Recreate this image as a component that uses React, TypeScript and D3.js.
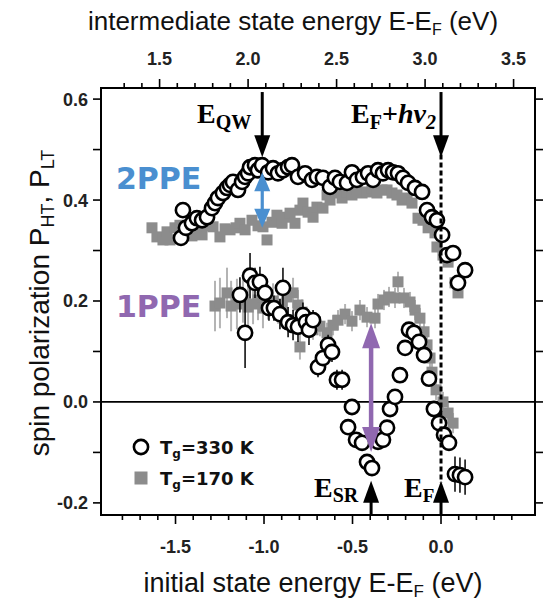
import React from 'react';
import * as d3 from 'd3';

// ---------- data (initial state energy E-EF in eV, spin polarization) ----------
// T_g = 330 K, 2PPE branch (open circles)
const e330hi = [-1.469, -1.458, -1.441, -1.407, -1.379, -1.350, -1.322, -1.294, -1.277, -1.260, -1.232, -1.209, -1.192, -1.175, -1.147, -1.124, -1.107, -1.090, -1.079, -1.051, -1.034, -1.011, -0.977, -0.949, -0.921, -0.893, -0.864, -0.842, -0.808, -0.768, -0.729, -0.701, -0.667, -0.627, -0.599, -0.571, -0.531, -0.503, -0.475, -0.441, -0.412, -0.384, -0.356, -0.328, -0.299, -0.271, -0.243, -0.215, -0.186, -0.147, -0.107, -0.079, -0.051, -0.023, 0.006, 0.034, 0.068, 0.096, 0.136];
const p330hi = [0.325, 0.380, 0.345, 0.354, 0.364, 0.360, 0.366, 0.384, 0.394, 0.404, 0.414, 0.424, 0.430, 0.436, 0.420, 0.436, 0.446, 0.453, 0.465, 0.469, 0.459, 0.469, 0.455, 0.463, 0.453, 0.459, 0.465, 0.469, 0.446, 0.453, 0.440, 0.446, 0.444, 0.426, 0.444, 0.436, 0.434, 0.455, 0.440, 0.446, 0.453, 0.440, 0.459, 0.453, 0.459, 0.455, 0.453, 0.444, 0.434, 0.424, 0.416, 0.380, 0.366, 0.360, 0.331, 0.291, 0.295, 0.236, 0.261];

// T_g = 330 K, 1PPE branch (open circles) with error bars
const e330lo = [-1.136, -1.107, -1.079, -1.051, -1.023, -0.994, -0.972, -0.944, -0.910, -0.893, -0.864, -0.836, -0.808, -0.780, -0.763, -0.746, -0.723, -0.695, -0.667, -0.638, -0.616, -0.588, -0.559, -0.525, -0.503, -0.480, -0.446, -0.418, -0.390, -0.356, -0.328, -0.305, -0.288, -0.260, -0.232, -0.203, -0.181, -0.153, -0.124, -0.096, -0.068, -0.040, -0.011, 0.017, 0.045, 0.079, 0.107, 0.136];
const p330lo = [0.212, 0.137, 0.250, 0.236, 0.238, 0.216, 0.186, 0.186, 0.174, 0.226, 0.158, 0.152, 0.149, 0.172, 0.158, 0.143, 0.162, 0.069, 0.087, 0.113, 0.099, 0.044, 0.044, -0.050, -0.010, -0.075, -0.081, -0.119, -0.131, -0.079, -0.075, -0.051, -0.014, 0.010, 0.053, 0.107, 0.143, 0.137, 0.119, 0.093, 0.046, -0.014, -0.042, -0.065, -0.081, -0.143, -0.145, -0.149];
const err330lo = [0.035, 0.07, 0.045, 0.03, 0.03, 0.03, 0.025, 0.025, 0.03, 0.04, 0.03, 0.03, 0.03, 0.025, 0.025, 0.03, 0.02, 0.02, 0.02, 0.02, 0.02, 0.02, 0.02, 0.015, 0.015, 0.012, 0.012, 0.012, 0.012, 0.012, 0.012, 0.012, 0.012, 0.012, 0.012, 0.012, 0.012, 0.012, 0.012, 0.012, 0.012, 0.012, 0.012, 0.015, 0.015, 0.035, 0.035, 0.035];

// T_g = 170 K, 2PPE branch (grey squares)
const e170hi = [-1.633, -1.605, -1.571, -1.548, -1.531, -1.503, -1.475, -1.435, -1.407, -1.379, -1.350, -1.322, -1.288, -1.249, -1.220, -1.192, -1.158, -1.136, -1.107, -1.068, -1.034, -1.006, -0.983, -0.955, -0.927, -0.898, -0.870, -0.853, -0.825, -0.797, -0.780, -0.751, -0.723, -0.701, -0.667, -0.644, -0.627, -0.588, -0.559, -0.531, -0.503, -0.475, -0.446, -0.418, -0.390, -0.362, -0.333, -0.305, -0.277, -0.249, -0.220, -0.192, -0.164, -0.130, -0.102, -0.073, -0.034, -0.023, 0.011, 0.040, 0.079, 0.096];
const p170hi = [0.345, 0.327, 0.321, 0.337, 0.321, 0.345, 0.350, 0.341, 0.329, 0.341, 0.331, 0.349, 0.347, 0.327, 0.343, 0.341, 0.345, 0.354, 0.341, 0.360, 0.349, 0.347, 0.321, 0.356, 0.370, 0.354, 0.366, 0.374, 0.354, 0.380, 0.394, 0.376, 0.366, 0.386, 0.384, 0.410, 0.400, 0.414, 0.404, 0.416, 0.410, 0.420, 0.414, 0.416, 0.424, 0.414, 0.420, 0.420, 0.414, 0.410, 0.400, 0.404, 0.394, 0.364, 0.360, 0.345, 0.335, 0.307, 0.291, 0.277, 0.236, 0.216];

// T_g = 170 K, 1PPE branch (grey squares) with error bars
const e170lo = [-1.277, -1.249, -1.209, -1.186, -1.153, -1.119, -1.090, -1.062, -1.034, -1.006, -0.977, -0.949, -0.921, -0.898, -0.870, -0.836, -0.808, -0.797, -0.785, -0.757, -0.723, -0.684, -0.644, -0.610, -0.582, -0.542, -0.503, -0.458, -0.418, -0.373, -0.356, -0.322, -0.294, -0.260, -0.243, -0.209, -0.175, -0.147, -0.119, -0.096, -0.079, -0.062, -0.051, -0.028, 0.011, 0.040, 0.068];
const p170lo = [0.190, 0.196, 0.216, 0.190, 0.194, 0.202, 0.188, 0.194, 0.202, 0.186, 0.198, 0.200, 0.190, 0.194, 0.208, 0.216, 0.192, 0.109, 0.178, 0.158, 0.143, 0.150, 0.137, 0.152, 0.162, 0.174, 0.160, 0.182, 0.168, 0.166, 0.194, 0.202, 0.208, 0.206, 0.238, 0.206, 0.198, 0.182, 0.166, 0.139, 0.113, 0.087, 0.059, 0.024, 0.000, -0.022, -0.042];
const err170lo = [0.05, 0.05, 0.05, 0.05, 0.05, 0.045, 0.045, 0.04, 0.04, 0.04, 0.035, 0.035, 0.035, 0.03, 0.03, 0.03, 0.03, 0.025, 0.025, 0.02, 0.02, 0.02, 0.02, 0.02, 0.02, 0.02, 0.02, 0.02, 0.02, 0.02, 0.02, 0.02, 0.02, 0.02, 0.02, 0.02, 0.02, 0.02, 0.02, 0.02, 0.02, 0.02, 0.02, 0.02, 0.02, 0.02, 0.02];

// axes
const bottomMajor = [-1.5, -1.0, -0.5, 0.0];
const bottomMinor = [-1.8, -1.7, -1.6, -1.4, -1.3, -1.2, -1.1, -0.9, -0.8, -0.7, -0.6, -0.4, -0.3, -0.2, -0.1, 0.1, 0.2, 0.3, 0.4];
const topMajor = [1.5, 2.0, 2.5, 3.0, 3.5];
const topMinor = [1.3, 1.4, 1.6, 1.7, 1.8, 1.9, 2.1, 2.2, 2.3, 2.4, 2.6, 2.7, 2.8, 2.9, 3.1, 3.2, 3.3, 3.4];
const leftMajor = [0.6, 0.4, 0.2, 0.0, -0.2];
const leftMinor = [0.5, 0.3, 0.1, -0.1];

const hv2 = 3.09; // photon energy offset between axes
const E_QW = -1.01;
const E_SR = -0.395;

const FL = 101, FR = 535, FT = 88, FB = 515;

const x = d3.scaleLinear().domain([-1.921, 0.531]).range([FL, FR]);
const xTop = d3.scaleLinear().domain([-1.921 + hv2, 0.531 + hv2]).range([FL, FR]);
const y = d3.scaleLinear().domain([-0.224, 0.622]).range([FB, FT]);

const BLUE = '#4a8fd0';
const PURPLE = '#9068b0';
const GREY = '#8c8c8c';
const SANS = 'Liberation Sans, Arial, sans-serif';
const SERIF = 'Liberation Serif, Times New Roman, serif';
const BOLDSANS = 'DejaVu Sans, sans-serif';

function DownArrow({ cx, y0, y1, color = '#000', w = 3, hw = 8, hl = 22 }) {
  return (
    <g>
      <line x1={cx} x2={cx} y1={y0} y2={y1 - hl + 2} stroke={color} strokeWidth={w} />
      <polygon points={`${cx - hw},${y1 - hl} ${cx + hw},${y1 - hl} ${cx},${y1}`} fill={color} />
    </g>
  );
}
function UpArrow({ cx, y0, y1, color = '#000', w = 3, hw = 8, hl = 22 }) {
  return (
    <g>
      <line x1={cx} x2={cx} y1={y0} y2={y1 + hl - 2} stroke={color} strokeWidth={w} />
      <polygon points={`${cx - hw},${y1 + hl} ${cx + hw},${y1 + hl} ${cx},${y1}`} fill={color} />
    </g>
  );
}
function DoubleArrow({ cx, yTop, yBot, color, w, hw, hl }) {
  return (
    <g>
      <line x1={cx} x2={cx} y1={yTop + hl - 2} y2={yBot - hl + 2} stroke={color} strokeWidth={w} />
      <polygon points={`${cx - hw},${yTop + hl} ${cx + hw},${yTop + hl} ${cx},${yTop}`} fill={color} />
      <polygon points={`${cx - hw},${yBot - hl} ${cx + hw},${yBot - hl} ${cx},${yBot}`} fill={color} />
    </g>
  );
}

export default function App() {
  const hiCircles = e330hi.map((e, i) => ({ e, p: p330hi[i] }));
  const loCircles = e330lo.map((e, i) => ({ e, p: p330lo[i], s: err330lo[i] }));
  const hiSquares = e170hi.map((e, i) => ({ e, p: p170hi[i] }));
  const loSquares = e170lo.map((e, i) => ({ e, p: p170lo[i], s: err170lo[i] }));
  const SQ = 11;
  const R = 7.1;
  const x0 = x(0);
  const fmt = (v) => d3.format('.1f')(v).replace('−', '-');

  return (
    <svg width={550} height={604} style={{ position: 'absolute', left: 0, top: 0, background: '#fff' }}>
      <rect x={0} y={0} width={550} height={604} fill="#fff" />

      {/* axis titles */}
      <text x={293} y={30} textAnchor="middle" fontFamily={SANS} fontSize={26} fill="#111">
        intermediate state energy E-E<tspan fontSize={16} dy={5}>F</tspan><tspan dy={-5}> (eV)</tspan>
      </text>
      <text x={313} y={592} textAnchor="middle" fontFamily={SANS} fontSize={27} fill="#111">
        initial state energy E-E<tspan fontSize={17} dy={5}>F</tspan><tspan dy={-5}> (eV)</tspan>
      </text>
      <text transform={`translate(49,${303}) rotate(-90)`} textAnchor="middle" fontFamily={SANS} fontSize={28} fill="#111">
        spin polarization P<tspan fontSize={18} dy={5}>HT</tspan><tspan dy={-5}>, P</tspan><tspan fontSize={18} dy={5}>LT</tspan>
      </text>

      {/* ticks */}
      <g stroke="#000" strokeWidth={1.6}>
        {bottomMajor.map((v) => <line key={'bM' + v} x1={x(v)} x2={x(v)} y1={FB} y2={FB + 9} />)}
        {bottomMinor.map((v) => <line key={'bm' + v} x1={x(v)} x2={x(v)} y1={FB} y2={FB + 5} />)}
        {topMajor.map((v) => <line key={'tM' + v} x1={xTop(v)} x2={xTop(v)} y1={FT} y2={FT - 9} />)}
        {topMinor.map((v) => <line key={'tm' + v} x1={xTop(v)} x2={xTop(v)} y1={FT} y2={FT - 5} />)}
        {leftMajor.concat(leftMinor).map((v) => <line key={'l' + v} x1={FL} x2={FL - 8} y1={y(v)} y2={y(v)} />)}
        {leftMajor.concat(leftMinor).map((v) => <line key={'r' + v} x1={FR} x2={FR + 8} y1={y(v)} y2={y(v)} />)}
      </g>
      <g fontFamily={SANS} fontWeight="bold" fontSize={18} fill="#222">
        {bottomMajor.map((v) => (
          <text key={'bl' + v} x={x(v)} y={553} textAnchor="middle">{fmt(v)}</text>
        ))}
        {topMajor.map((v) => (
          <text key={'tl' + v} x={xTop(v)} y={65} textAnchor="middle">{fmt(v)}</text>
        ))}
        {leftMajor.map((v) => (
          <text key={'ll' + v} x={FL - 13} y={y(v) + 6.5} textAnchor="end">{fmt(v)}</text>
        ))}
      </g>

      {/* zero line */}
      <line x1={FL} x2={FR} y1={y(0)} y2={y(0)} stroke="#000" strokeWidth={1.8} />

      {/* 170 K grey squares + error bars */}
      <g stroke="#b4b4b4" strokeWidth={2}>
        {loSquares.map((d, i) => (
          <line key={'es' + i} x1={x(d.e)} x2={x(d.e)} y1={y(d.p - d.s)} y2={y(d.p + d.s)} />
        ))}
      </g>
      <g fill={GREY}>
        {hiSquares.concat(loSquares).map((d, i) => (
          <rect key={'s' + i} x={x(d.e) - SQ / 2} y={y(d.p) - SQ / 2} width={SQ} height={SQ} />
        ))}
      </g>

      {/* 330 K circles + error bars */}
      <g stroke="#000" strokeWidth={1.5}>
        {loCircles.map((d, i) => (
          <line key={'ec' + i} x1={x(d.e)} x2={x(d.e)} y1={y(d.p - d.s)} y2={y(d.p + d.s)} />
        ))}
      </g>
      <g fill="#fff" stroke="#000" strokeWidth={2.6}>
        {hiCircles.concat(loCircles).map((d, i) => (
          <circle key={'c' + i} cx={x(d.e)} cy={y(d.p)} r={R} />
        ))}
      </g>

      {/* dotted line at E_F */}
      <line x1={x0} x2={x0} y1={y(0.49)} y2={y(-0.16)} stroke="#000" strokeWidth={3} strokeDasharray="5,3" />

      {/* arrows */}
      <DownArrow cx={x(E_QW)} y0={y(0.614)} y1={y(0.485)} hw={8} hl={22} />
      <DownArrow cx={x0} y0={y(0.614)} y1={y(0.485)} hw={8} hl={22} />
      <UpArrow cx={x(E_SR)} y0={FB - 1} y1={y(-0.156)} hw={8} hl={22} />
      <UpArrow cx={x0} y0={FB - 1} y1={y(-0.156)} hw={8} hl={22} />
      <DoubleArrow cx={x(E_QW)} yTop={y(0.455)} yBot={y(0.345)} color={BLUE} w={3.2} hw={8} hl={19} />
      <DoubleArrow cx={x(E_SR)} yTop={y(0.156)} yBot={y(-0.099)} color={PURPLE} w={4.5} hw={9} hl={25} />

      {/* labels */}
      <text x={197} y={123} fontFamily={SERIF} fontWeight="bold" fontSize={28} fill="#000">
        E<tspan fontSize={20} dy={6}>QW</tspan>
      </text>
      <text x={351} y={123} fontFamily={SERIF} fontWeight="bold" fontSize={28} fill="#000">
        E<tspan fontSize={20} dy={6}>F</tspan><tspan dy={-6}>+</tspan><tspan fontStyle="italic">hν</tspan><tspan fontStyle="italic" fontSize={20} dy={6}>2</tspan>
      </text>
      <text x={314} y={497} fontFamily={SERIF} fontWeight="bold" fontSize={28} fill="#000">
        E<tspan fontSize={20} dy={5}>SR</tspan>
      </text>
      <text x={404} y={497} fontFamily={SERIF} fontWeight="bold" fontSize={28} fill="#000">
        E<tspan fontSize={19} dy={5}>F</tspan>
      </text>

      <text x={116} y={189} fontFamily={BOLDSANS} fontWeight="bold" fontSize={30} fill={BLUE}>2PPE</text>
      <text x={116} y={317} fontFamily={BOLDSANS} fontWeight="bold" fontSize={30} fill={PURPLE}>1PPE</text>

      {/* legend */}
      <circle cx={141} cy={447} r={R} fill="#fff" stroke="#000" strokeWidth={2.6} />
      <rect x={141 - 6.5} y={478 - 6.5} width={13} height={13} fill={GREY} />
      <g fontFamily={BOLDSANS} fontWeight="bold" fontSize={18} fill="#111">
        <text x={160} y={454}>T<tspan fontSize={12} dy={4}>g</tspan><tspan dy={-4}>=330 K</tspan></text>
        <text x={160} y={485}>T<tspan fontSize={12} dy={4}>g</tspan><tspan dy={-4}>=170 K</tspan></text>
      </g>

      {/* frame */}
      <rect x={FL} y={FT} width={FR - FL} height={FB - FT} fill="none" stroke="#000" strokeWidth={2} />
    </svg>
  );
}
